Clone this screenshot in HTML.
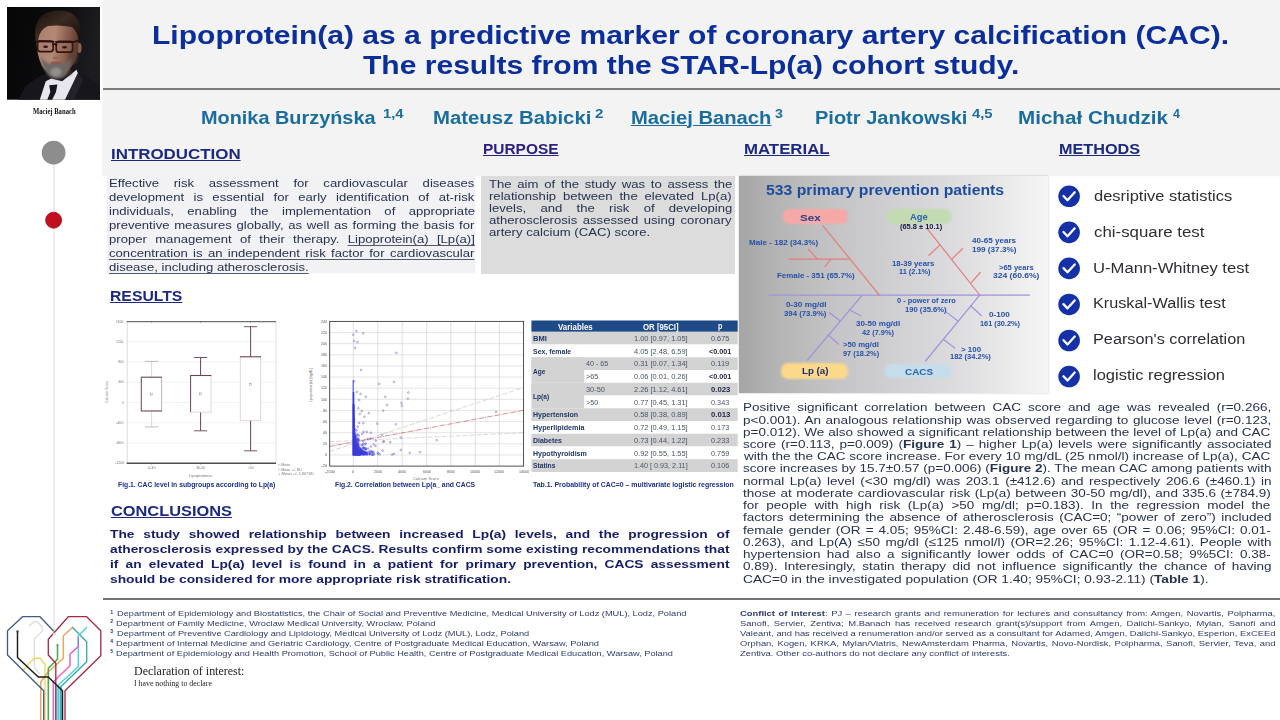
<!DOCTYPE html>
<html lang="en"><head><meta charset="utf-8"><title>Lipoprotein(a) as a predictive marker of coronary artery calcification (CAC)</title>
<style>
html,body{margin:0;padding:0;}
body{width:1280px;height:720px;position:relative;overflow:hidden;background:#ffffff;font-family:"Liberation Sans",sans-serif;}
.t{position:absolute;white-space:nowrap;transform-origin:0 0;margin:0;padding:0;}
.u{text-decoration:underline;text-decoration-thickness:1.1px;text-underline-offset:1px;}
.t u{text-decoration-thickness:0.6px;text-underline-offset:1.5px;text-decoration-color:rgba(39,50,79,.8);}
.bx{position:absolute;}
#gfx{position:absolute;left:0;top:0;width:1280px;height:720px;}
</style></head>
<body>

<div class="bx" style="left:103px;top:0;width:1177px;height:176px;background:#f3f3f3;box-shadow:-1px 0 1.5px rgba(243,243,243,.9)"></div>
<div class="bx" style="left:106.5px;top:176px;width:368.5px;height:97px;background:#f2f2f5;box-shadow:0 0 1.5px #f2f2f5;"></div>
<div class="bx" style="left:481.4px;top:176px;width:253.3px;height:97.8px;background:#dcdcdc;"></div>
<div class="bx" style="left:739.3px;top:175.6px;width:308.5px;height:217.4px;background:linear-gradient(90deg,#a5a5a5 0%,#b5b5b5 13%,#c5c5c7 32%,#d1d1d3 52%,#dddddf 71%,#ebebec 88%,#f3f3f4 97%,#f6f6f6 100%);box-shadow:0 0 2px rgba(120,120,120,.45)"></div>
<div class="bx" style="left:782.5px;top:208.7px;width:65.8px;height:15.6px;border-radius:6px;background:#f5a9a6;filter:blur(1.1px)"></div>
<div class="bx" style="left:885.7px;top:208.8px;width:66.5px;height:15.5px;border-radius:8px;background:#c2dbb3;filter:blur(1.1px)"></div>
<div class="bx" style="left:780.8px;top:363px;width:67.5px;height:16.2px;border-radius:7px;background:#fbd88a;filter:blur(1.1px)"></div>
<div class="bx" style="left:883.8px;top:364.4px;width:68px;height:14px;border-radius:7px;background:#c6dcea;filter:blur(1.1px)"></div>
<div class="bx" style="left:103px;top:88px;width:1177px;height:1.7px;background:#7c7c7c;"></div>
<div class="bx" style="left:103px;top:597.8px;width:1177px;height:1.8px;background:#747474;"></div>

<svg id="gfx" viewBox="0 0 1280 720" width="1280" height="720">
<defs><clipPath id="pc"><rect x="7" y="7" width="93" height="92.7"/></clipPath><linearGradient id="pbg" x1="0" y1="0" x2="1" y2="0.2"><stop offset="0" stop-color="#060607"/><stop offset="0.55" stop-color="#0c0c0e"/><stop offset="1" stop-color="#1d1d21"/></linearGradient><linearGradient id="skin" x1="0" y1="0" x2="1" y2="0.15"><stop offset="0" stop-color="#a87d6b"/><stop offset="0.45" stop-color="#b38875"/><stop offset="0.8" stop-color="#83584a"/><stop offset="1" stop-color="#5c3c32"/></linearGradient><linearGradient id="hair" x1="0" y1="0" x2="1" y2="1"><stop offset="0" stop-color="#19110d"/><stop offset="0.45" stop-color="#3a2b21"/><stop offset="1" stop-color="#140d0a"/></linearGradient><filter id="bl" x="-20%" y="-20%" width="140%" height="140%"><feGaussianBlur stdDeviation="1.3"/></filter><filter id="bl2" x="-20%" y="-20%" width="140%" height="140%"><feGaussianBlur stdDeviation="0.7"/></filter></defs>
<rect x="7" y="7" width="93" height="92.7" fill="url(#pbg)"/>
<g clip-path="url(#pc)">
<path d="M18,100 L24,88 Q33,79 45,74 L78,72 Q92,80 100,86 L100,100 Z" fill="#14151a" filter="url(#bl2)"/>
<path d="M77,72 L66,100 L74,100 L83,80 Z" fill="#23242b" filter="url(#bl2)"/>
<path d="M45.8,81.2 L51.3,78.5 L62.2,81.2 L69,75.8 L76.5,69.7 L77.8,73 L64.9,100 L39.7,100 Z" fill="#e6e6ec" filter="url(#bl2)"/>
<path d="M49.2,85.3 L57.4,84.6 L56,92.1 L52,100 L47.2,100 L50.3,92 Z" fill="#15161e"/>
<ellipse cx="60" cy="72" rx="12" ry="5" fill="#3c2b25" filter="url(#bl)"/>
<ellipse cx="79.3" cy="48" rx="2.3" ry="5" fill="#8a604f" filter="url(#bl2)"/>
<path d="M36.5,40 Q36,27 47,24.5 Q60,22 72,25 Q79,30 78.5,44 Q78,58 72,66 Q66,75 57,76 Q48,75 42,66 Q36.5,55 36.5,40 Z" fill="url(#skin)" filter="url(#bl2)"/>
<ellipse cx="73" cy="56" rx="5" ry="9" fill="#5e3f34" opacity="0.6" filter="url(#bl)"/>
<path d="M35.5,41 Q33,22 44,14 Q56,8 69,12 Q80,17 80.5,30 L79.5,41 Q77,31 72,27 Q60,24.5 48,26 Q40,29 38,40 Z" fill="url(#hair)" filter="url(#bl2)"/>
<path d="M41,56 Q42,68 48,75 Q56,81.5 64,77 Q70,71 71.5,58 Q68,63.5 63,64 Q56,61.5 50,63.5 Q44,62.5 41,56 Z" fill="#6d6865" filter="url(#bl)"/>
<ellipse cx="56" cy="72" rx="5.5" ry="4.5" fill="#918d89" filter="url(#bl)"/>
<ellipse cx="56.5" cy="63" rx="6" ry="1.6" fill="#8c5a52" filter="url(#bl2)"/>
<ellipse cx="56" cy="58" rx="3.2" ry="1.4" fill="#96695a" filter="url(#bl2)"/>
<rect x="37.6" y="41" width="15.6" height="10.6" rx="2.8" fill="#a87c6b" fill-opacity="0.55" stroke="#351411" stroke-width="1.7"/>
<rect x="56.2" y="41.4" width="16.4" height="10.8" rx="2.8" fill="#9a6f60" fill-opacity="0.55" stroke="#351411" stroke-width="1.7"/>
<path d="M37,41.3 L53.5,41.6 M56,41.9 L73,42 L79.5,40.6 M53.2,44.5 Q54.7,43.6 56.2,44.7" stroke="#2b100e" stroke-width="1.9" fill="none" stroke-linecap="round"/>
<ellipse cx="45.6" cy="46.8" rx="2.4" ry="1.2" fill="#2a1815"/><ellipse cx="64.6" cy="47.2" rx="2.4" ry="1.2" fill="#2a1815"/>
</g>
<line x1="54.1" y1="160" x2="54.1" y2="634" stroke="#d6d6d6" stroke-width="0.9"/>
<circle cx="53.6" cy="152.7" r="11.9" fill="#8d8d8d"/>
<circle cx="53.6" cy="220.2" r="8" fill="#c20f1f" stroke="#a30d1b" stroke-width="0.8"/>
<rect x="55.5" y="686" width="6.5" height="34" fill="#9adcec"/>
<path d="M29.2,625.8 L34.2,621.7 L37.5,621.7 L42.5,627.5 L42.5,630.8 L34.2,639.2 L34.2,666.7 L39.2,673.3" fill="none" stroke="#d9d9de" stroke-width="1.2" stroke-linejoin="round" stroke-linecap="round" />
<path d="M22.5,670.8 L34.2,658.3 L40.0,658.3 L45.0,664.2 L45.0,720.0" fill="none" stroke="#ead868" stroke-width="1.44" stroke-linejoin="round" stroke-linecap="round" />
<path d="M72.5,627.5 L63.3,635.8 L63.3,658.3 L48.3,671.7 L40.8,681.7 L40.8,720.0" fill="none" stroke="#e9a55a" stroke-width="1.44" stroke-linejoin="round" stroke-linecap="round" />
<path d="M57.5,645.0 L57.5,659.2 L48.3,668.3 L48.3,720.0" fill="none" stroke="#4aa848" stroke-width="1.56" stroke-linejoin="round" stroke-linecap="round" />
<path d="M72.5,627.5 L86.7,641.7 L86.7,661.7 L60.8,686.7 L60.8,720.0" fill="none" stroke="#3aa7a7" stroke-width="1.32" stroke-linejoin="round" stroke-linecap="round" />
<path d="M86.7,627.5 L78.3,635.8 L78.3,666.7 L58.3,685.0 L58.3,720.0" fill="none" stroke="#4fd0de" stroke-width="1.44" stroke-linejoin="round" stroke-linecap="round" />
<path d="M78.3,637.5 L78.3,646.7" fill="none" stroke="#8a86e0" stroke-width="1.44" stroke-linejoin="round" stroke-linecap="round" />
<path d="M78.3,646.7 L70.0,654.2 L70.0,665.8 L53.3,681.7 L53.3,720.0" fill="none" stroke="#e36ad2" stroke-width="1.56" stroke-linejoin="round" stroke-linecap="round" />
<path d="M43.7,720.0 L43.7,690.8 L7.5,655.0 L7.5,630.8 L22.5,616.7 L40.0,616.7 L53.3,630.8" fill="none" stroke="#3b5d8c" stroke-width="1.32" stroke-linejoin="round" stroke-linecap="round" />
<path d="M65.0,720.0 L65.0,690.8 L100.8,655.8 L100.8,630.8 L86.7,616.7 L68.3,616.7 L48.3,639.2 L48.3,655.0 L55.8,663.3 L55.8,720.0" fill="none" stroke="#a32a45" stroke-width="1.32" stroke-linejoin="round" stroke-linecap="round" />
<path d="M17.5,631.7 L17.5,657.5 L38.3,677.0 L48.3,677.0 L62.5,690.8 L62.5,720.0" fill="none" stroke="#1a1a1a" stroke-width="1.44" stroke-linejoin="round" stroke-linecap="round" />
<circle cx="17.5" cy="631.5" r="1.3" fill="#555"/>
<circle cx="57.5" cy="645" r="1.1" fill="#4aa848"/>
<circle cx="54.2" cy="634" r="1.6" fill="#d5d5d8"/>
<rect x="127.2" y="321.7" width="148.8" height="141.60000000000002" fill="#fff"/>
<line x1="127.2" y1="341.6" x2="276" y2="341.6" stroke="#e4e4e4" stroke-width="0.5"/>
<line x1="127.2" y1="361.9" x2="276" y2="361.9" stroke="#e4e4e4" stroke-width="0.5"/>
<line x1="127.2" y1="382.2" x2="276" y2="382.2" stroke="#e4e4e4" stroke-width="0.5"/>
<line x1="127.2" y1="402.5" x2="276" y2="402.5" stroke="#e4e4e4" stroke-width="0.5"/>
<line x1="127.2" y1="422.8" x2="276" y2="422.8" stroke="#e4e4e4" stroke-width="0.5"/>
<line x1="127.2" y1="442.8" x2="276" y2="442.8" stroke="#e4e4e4" stroke-width="0.5"/>
<line x1="127.2" y1="321.7" x2="127.2" y2="463.3" stroke="#c4c4c4" stroke-width="0.6"/>
<line x1="276" y1="321.7" x2="276" y2="463.3" stroke="#cfcfcf" stroke-width="0.6"/>
<line x1="126.7" y1="321.7" x2="276" y2="321.7" stroke="#4c4c4c" stroke-width="1.0"/>
<line x1="126.7" y1="463.3" x2="276" y2="463.3" stroke="#4c4c4c" stroke-width="1.5"/>
<rect x="141.3" y="377.2" width="20.299999999999983" height="33.80000000000001" fill="#fff"/>
<line x1="151.6" y1="361.4" x2="151.6" y2="377.2" stroke="#c8c0c2" stroke-width="0.6"/>
<line x1="151.6" y1="411.0" x2="151.6" y2="426.9" stroke="#c8c0c2" stroke-width="0.6"/>
<line x1="145.1" y1="361.4" x2="158.1" y2="361.4" stroke="#b9b0b3" stroke-width="0.9"/>
<line x1="145.1" y1="426.9" x2="158.1" y2="426.9" stroke="#b9b0b3" stroke-width="0.9"/>
<line x1="141.3" y1="377.2" x2="141.3" y2="411.0" stroke="#6a4450" stroke-width="1.0"/>
<line x1="161.6" y1="377.2" x2="161.6" y2="411.0" stroke="#9a8088" stroke-width="0.6"/>
<line x1="140.9" y1="377.2" x2="162.0" y2="377.2" stroke="#6a4450" stroke-width="1.1"/>
<line x1="140.9" y1="411.0" x2="162.0" y2="411.0" stroke="#6a4450" stroke-width="1.1"/>
<rect x="150.6" y="393.1" width="2" height="2" fill="none" stroke="#777" stroke-width="0.4"/>
<rect x="190.6" y="375.5" width="20.400000000000006" height="36.69999999999999" fill="#fff"/>
<line x1="200.6" y1="357.5" x2="200.6" y2="375.5" stroke="#6a4450" stroke-width="1.0"/>
<line x1="200.6" y1="412.2" x2="200.6" y2="430.8" stroke="#6a4450" stroke-width="1.0"/>
<line x1="194.1" y1="357.5" x2="207.1" y2="357.5" stroke="#6a4450" stroke-width="0.9"/>
<line x1="194.1" y1="430.8" x2="207.1" y2="430.8" stroke="#6a4450" stroke-width="0.9"/>
<line x1="190.6" y1="375.5" x2="190.6" y2="412.2" stroke="#6a4450" stroke-width="1.0"/>
<line x1="211.0" y1="375.5" x2="211.0" y2="412.2" stroke="#c9bcc0" stroke-width="0.6"/>
<line x1="190.2" y1="375.5" x2="211.4" y2="375.5" stroke="#6a4450" stroke-width="1.1"/>
<line x1="190.2" y1="412.2" x2="211.4" y2="412.2" stroke="#c9bcc0" stroke-width="0.6"/>
<rect x="199.6" y="392.85" width="2" height="2" fill="none" stroke="#777" stroke-width="0.4"/>
<rect x="240.3" y="356.8" width="20.30000000000001" height="63.80000000000001" fill="#fff"/>
<line x1="250.6" y1="326.7" x2="250.6" y2="356.8" stroke="#6a4450" stroke-width="1.0"/>
<line x1="250.6" y1="420.6" x2="250.6" y2="450.8" stroke="#6a4450" stroke-width="1.0"/>
<line x1="244.1" y1="326.7" x2="257.1" y2="326.7" stroke="#6a4450" stroke-width="0.9"/>
<line x1="244.1" y1="450.8" x2="257.1" y2="450.8" stroke="#6a4450" stroke-width="0.9"/>
<line x1="240.3" y1="356.8" x2="240.3" y2="420.6" stroke="#c9bcc0" stroke-width="0.6"/>
<line x1="260.6" y1="356.8" x2="260.6" y2="420.6" stroke="#c9bcc0" stroke-width="0.6"/>
<line x1="239.9" y1="356.8" x2="261.0" y2="356.8" stroke="#6a4450" stroke-width="1.1"/>
<line x1="239.9" y1="420.6" x2="261.0" y2="420.6" stroke="#c9bcc0" stroke-width="0.6"/>
<rect x="249.6" y="383.70000000000005" width="2" height="2" fill="none" stroke="#777" stroke-width="0.4"/>
<line x1="151.6" y1="463.3" x2="151.6" y2="464.8" stroke="#777" stroke-width="0.5"/>
<line x1="151.6" y1="321.7" x2="151.6" y2="323.2" stroke="#777" stroke-width="0.5"/>
<line x1="200.6" y1="463.3" x2="200.6" y2="464.8" stroke="#777" stroke-width="0.5"/>
<line x1="200.6" y1="321.7" x2="200.6" y2="323.2" stroke="#777" stroke-width="0.5"/>
<line x1="250.6" y1="463.3" x2="250.6" y2="464.8" stroke="#777" stroke-width="0.5"/>
<line x1="250.6" y1="321.7" x2="250.6" y2="323.2" stroke="#777" stroke-width="0.5"/>
<text transform="rotate(-90 107.5 392)" x="107.5" y="392" font-size="3.4" font-family="Liberation Sans, sans-serif" fill="#777" text-anchor="middle">Calcium Score</text>
<text transform="rotate(-90 312 385)" x="312" y="385" font-size="3.4" font-family="Liberation Sans, sans-serif" fill="#555" text-anchor="middle">Lipoprotein (a) [mg/dL]</text>
<rect x="329.7" y="321.4" width="193.90000000000003" height="144.70000000000005" fill="#fff"/>
<line x1="353.3" y1="321.4" x2="353.3" y2="466.1" stroke="#c6c6c6" stroke-width="0.55"/>
<line x1="377.8" y1="321.4" x2="377.8" y2="466.1" stroke="#c6c6c6" stroke-width="0.55"/>
<line x1="402.2" y1="321.4" x2="402.2" y2="466.1" stroke="#c6c6c6" stroke-width="0.55"/>
<line x1="426.7" y1="321.4" x2="426.7" y2="466.1" stroke="#c6c6c6" stroke-width="0.55"/>
<line x1="450.8" y1="321.4" x2="450.8" y2="466.1" stroke="#c6c6c6" stroke-width="0.55"/>
<line x1="475.3" y1="321.4" x2="475.3" y2="466.1" stroke="#c6c6c6" stroke-width="0.55"/>
<line x1="499.4" y1="321.4" x2="499.4" y2="466.1" stroke="#c6c6c6" stroke-width="0.55"/>
<line x1="329.7" y1="332.53" x2="523.6" y2="332.53" stroke="#cdcdcd" stroke-width="0.55"/>
<line x1="329.7" y1="343.65999999999997" x2="523.6" y2="343.65999999999997" stroke="#cdcdcd" stroke-width="0.55"/>
<line x1="329.7" y1="354.78999999999996" x2="523.6" y2="354.78999999999996" stroke="#cdcdcd" stroke-width="0.55"/>
<line x1="329.7" y1="365.91999999999996" x2="523.6" y2="365.91999999999996" stroke="#cdcdcd" stroke-width="0.55"/>
<line x1="329.7" y1="377.04999999999995" x2="523.6" y2="377.04999999999995" stroke="#cdcdcd" stroke-width="0.55"/>
<line x1="329.7" y1="388.17999999999995" x2="523.6" y2="388.17999999999995" stroke="#cdcdcd" stroke-width="0.55"/>
<line x1="329.7" y1="399.31" x2="523.6" y2="399.31" stroke="#cdcdcd" stroke-width="0.55"/>
<line x1="329.7" y1="410.44" x2="523.6" y2="410.44" stroke="#cdcdcd" stroke-width="0.55"/>
<line x1="329.7" y1="421.57" x2="523.6" y2="421.57" stroke="#cdcdcd" stroke-width="0.55"/>
<line x1="329.7" y1="432.7" x2="523.6" y2="432.7" stroke="#cdcdcd" stroke-width="0.55"/>
<line x1="329.7" y1="443.83" x2="523.6" y2="443.83" stroke="#cdcdcd" stroke-width="0.55"/>
<line x1="329.7" y1="454.96" x2="523.6" y2="454.96" stroke="#cdcdcd" stroke-width="0.55"/>
<line x1="329.7" y1="451.4" x2="523.6" y2="387.5" stroke="#c9b8b8" stroke-width="0.6" stroke-dasharray="5 2"/>
<line x1="329.7" y1="441.7" x2="523.6" y2="432.8" stroke="#c9c0c0" stroke-width="0.6" stroke-dasharray="5 2"/>
<line x1="329.7" y1="446.4" x2="523.6" y2="410.3" stroke="#b84444" stroke-width="0.6" stroke-dasharray="5 1 1 1"/>
<rect x="352.5" y="392" width="1.8" height="63.5" fill="#2828dd" opacity="0.92"/>
<rect x="352.6" y="380" width="1.2" height="12" fill="#3a3ae0" opacity="0.8"/>
<polygon points="352.6,455.6 352.6,404 354.6,404 355.2,430 357,443 362,449.5 368,452.5 368,455.6" fill="#2a2ae0" opacity="0.8"/>
<circle cx="356.0" cy="453.5" r="0.8" fill="none" stroke="#3a3ad8" stroke-width="0.45"/>
<circle cx="359.3" cy="454.5" r="0.8" fill="none" stroke="#3a3ad8" stroke-width="0.45"/>
<circle cx="357.8" cy="451.7" r="0.8" fill="none" stroke="#3a3ad8" stroke-width="0.45"/>
<circle cx="354.3" cy="446.9" r="0.8" fill="none" stroke="#3a3ad8" stroke-width="0.45"/>
<circle cx="354.2" cy="448.4" r="0.8" fill="none" stroke="#3a3ad8" stroke-width="0.45"/>
<circle cx="354.4" cy="453.9" r="0.8" fill="none" stroke="#3a3ad8" stroke-width="0.45"/>
<circle cx="356.8" cy="440.6" r="0.8" fill="none" stroke="#3a3ad8" stroke-width="0.45"/>
<circle cx="354.7" cy="452.3" r="0.8" fill="none" stroke="#3a3ad8" stroke-width="0.45"/>
<circle cx="358.9" cy="435.6" r="0.8" fill="none" stroke="#3a3ad8" stroke-width="0.45"/>
<circle cx="358.3" cy="451.5" r="0.8" fill="none" stroke="#3a3ad8" stroke-width="0.45"/>
<circle cx="372.7" cy="454.9" r="0.8" fill="none" stroke="#3a3ad8" stroke-width="0.45"/>
<circle cx="363.8" cy="453.4" r="0.8" fill="none" stroke="#3a3ad8" stroke-width="0.45"/>
<circle cx="354.8" cy="453.7" r="0.8" fill="none" stroke="#3a3ad8" stroke-width="0.45"/>
<circle cx="355.8" cy="439.5" r="0.8" fill="none" stroke="#3a3ad8" stroke-width="0.45"/>
<circle cx="355.0" cy="446.0" r="0.8" fill="none" stroke="#3a3ad8" stroke-width="0.45"/>
<circle cx="359.1" cy="452.0" r="0.8" fill="none" stroke="#3a3ad8" stroke-width="0.45"/>
<circle cx="358.0" cy="454.5" r="0.8" fill="none" stroke="#3a3ad8" stroke-width="0.45"/>
<circle cx="354.3" cy="452.4" r="0.8" fill="none" stroke="#3a3ad8" stroke-width="0.45"/>
<circle cx="359.7" cy="451.6" r="0.8" fill="none" stroke="#3a3ad8" stroke-width="0.45"/>
<circle cx="355.9" cy="447.0" r="0.8" fill="none" stroke="#3a3ad8" stroke-width="0.45"/>
<circle cx="357.0" cy="452.2" r="0.8" fill="none" stroke="#3a3ad8" stroke-width="0.45"/>
<circle cx="361.9" cy="448.8" r="0.8" fill="none" stroke="#3a3ad8" stroke-width="0.45"/>
<circle cx="355.4" cy="446.7" r="0.8" fill="none" stroke="#3a3ad8" stroke-width="0.45"/>
<circle cx="357.7" cy="439.6" r="0.8" fill="none" stroke="#3a3ad8" stroke-width="0.45"/>
<circle cx="360.5" cy="453.0" r="0.8" fill="none" stroke="#3a3ad8" stroke-width="0.45"/>
<circle cx="373.6" cy="454.6" r="0.8" fill="none" stroke="#3a3ad8" stroke-width="0.45"/>
<circle cx="356.7" cy="443.3" r="0.8" fill="none" stroke="#3a3ad8" stroke-width="0.45"/>
<circle cx="354.8" cy="447.9" r="0.8" fill="none" stroke="#3a3ad8" stroke-width="0.45"/>
<circle cx="354.2" cy="442.2" r="0.8" fill="none" stroke="#3a3ad8" stroke-width="0.45"/>
<circle cx="361.2" cy="450.4" r="0.8" fill="none" stroke="#3a3ad8" stroke-width="0.45"/>
<circle cx="364.4" cy="453.3" r="0.8" fill="none" stroke="#3a3ad8" stroke-width="0.45"/>
<circle cx="359.9" cy="449.6" r="0.8" fill="none" stroke="#3a3ad8" stroke-width="0.45"/>
<circle cx="358.3" cy="450.8" r="0.8" fill="none" stroke="#3a3ad8" stroke-width="0.45"/>
<circle cx="363.2" cy="441.3" r="0.8" fill="none" stroke="#3a3ad8" stroke-width="0.45"/>
<circle cx="357.2" cy="446.5" r="0.8" fill="none" stroke="#3a3ad8" stroke-width="0.45"/>
<circle cx="354.3" cy="441.2" r="0.8" fill="none" stroke="#3a3ad8" stroke-width="0.45"/>
<circle cx="359.2" cy="423.0" r="0.8" fill="none" stroke="#3a3ad8" stroke-width="0.45"/>
<circle cx="362.6" cy="453.4" r="0.8" fill="none" stroke="#3a3ad8" stroke-width="0.45"/>
<circle cx="356.4" cy="445.6" r="0.8" fill="none" stroke="#3a3ad8" stroke-width="0.45"/>
<circle cx="354.1" cy="447.7" r="0.8" fill="none" stroke="#3a3ad8" stroke-width="0.45"/>
<circle cx="354.9" cy="453.7" r="0.8" fill="none" stroke="#3a3ad8" stroke-width="0.45"/>
<circle cx="354.3" cy="438.3" r="0.8" fill="none" stroke="#3a3ad8" stroke-width="0.45"/>
<circle cx="354.7" cy="451.9" r="0.8" fill="none" stroke="#3a3ad8" stroke-width="0.45"/>
<circle cx="356.5" cy="437.6" r="0.8" fill="none" stroke="#3a3ad8" stroke-width="0.45"/>
<circle cx="354.4" cy="448.3" r="0.8" fill="none" stroke="#3a3ad8" stroke-width="0.45"/>
<circle cx="358.0" cy="439.5" r="0.8" fill="none" stroke="#3a3ad8" stroke-width="0.45"/>
<circle cx="362.6" cy="445.1" r="0.8" fill="none" stroke="#3a3ad8" stroke-width="0.45"/>
<circle cx="355.6" cy="449.9" r="0.8" fill="none" stroke="#3a3ad8" stroke-width="0.45"/>
<circle cx="356.2" cy="436.1" r="0.8" fill="none" stroke="#3a3ad8" stroke-width="0.45"/>
<circle cx="369.8" cy="454.5" r="0.8" fill="none" stroke="#3a3ad8" stroke-width="0.45"/>
<circle cx="355.0" cy="452.3" r="0.8" fill="none" stroke="#3a3ad8" stroke-width="0.45"/>
<circle cx="355.3" cy="448.5" r="0.8" fill="none" stroke="#3a3ad8" stroke-width="0.45"/>
<circle cx="358.4" cy="452.9" r="0.8" fill="none" stroke="#3a3ad8" stroke-width="0.45"/>
<circle cx="354.0" cy="448.5" r="0.8" fill="none" stroke="#3a3ad8" stroke-width="0.45"/>
<circle cx="356.3" cy="447.8" r="0.8" fill="none" stroke="#3a3ad8" stroke-width="0.45"/>
<circle cx="369.3" cy="451.0" r="0.8" fill="none" stroke="#3a3ad8" stroke-width="0.45"/>
<circle cx="357.6" cy="447.8" r="0.8" fill="none" stroke="#3a3ad8" stroke-width="0.45"/>
<circle cx="359.6" cy="454.7" r="0.8" fill="none" stroke="#3a3ad8" stroke-width="0.45"/>
<circle cx="365.5" cy="448.8" r="0.8" fill="none" stroke="#3a3ad8" stroke-width="0.45"/>
<circle cx="364.4" cy="448.0" r="0.8" fill="none" stroke="#3a3ad8" stroke-width="0.45"/>
<circle cx="356.5" cy="450.7" r="0.8" fill="none" stroke="#3a3ad8" stroke-width="0.45"/>
<circle cx="354.5" cy="443.9" r="0.8" fill="none" stroke="#3a3ad8" stroke-width="0.45"/>
<circle cx="354.3" cy="454.2" r="0.8" fill="none" stroke="#3a3ad8" stroke-width="0.45"/>
<circle cx="355.2" cy="453.2" r="0.8" fill="none" stroke="#3a3ad8" stroke-width="0.45"/>
<circle cx="356.1" cy="454.5" r="0.8" fill="none" stroke="#3a3ad8" stroke-width="0.45"/>
<circle cx="354.0" cy="453.0" r="0.8" fill="none" stroke="#3a3ad8" stroke-width="0.45"/>
<circle cx="354.5" cy="450.0" r="0.8" fill="none" stroke="#3a3ad8" stroke-width="0.45"/>
<circle cx="354.1" cy="430.6" r="0.8" fill="none" stroke="#3a3ad8" stroke-width="0.45"/>
<circle cx="358.8" cy="453.9" r="0.8" fill="none" stroke="#3a3ad8" stroke-width="0.45"/>
<circle cx="355.5" cy="450.9" r="0.8" fill="none" stroke="#3a3ad8" stroke-width="0.45"/>
<circle cx="356.3" cy="453.9" r="0.8" fill="none" stroke="#3a3ad8" stroke-width="0.45"/>
<circle cx="363.5" cy="431.8" r="0.8" fill="none" stroke="#3a3ad8" stroke-width="0.45"/>
<circle cx="357.1" cy="449.8" r="0.8" fill="none" stroke="#3a3ad8" stroke-width="0.45"/>
<circle cx="354.4" cy="453.8" r="0.8" fill="none" stroke="#3a3ad8" stroke-width="0.45"/>
<circle cx="356.1" cy="452.3" r="0.8" fill="none" stroke="#3a3ad8" stroke-width="0.45"/>
<circle cx="362.8" cy="454.1" r="0.8" fill="none" stroke="#3a3ad8" stroke-width="0.45"/>
<circle cx="354.1" cy="419.5" r="0.8" fill="none" stroke="#3a3ad8" stroke-width="0.45"/>
<circle cx="357.8" cy="453.8" r="0.8" fill="none" stroke="#3a3ad8" stroke-width="0.45"/>
<circle cx="357.9" cy="454.8" r="0.8" fill="none" stroke="#3a3ad8" stroke-width="0.45"/>
<circle cx="357.8" cy="426.7" r="0.8" fill="none" stroke="#3a3ad8" stroke-width="0.45"/>
<circle cx="364.0" cy="449.6" r="0.8" fill="none" stroke="#3a3ad8" stroke-width="0.45"/>
<circle cx="355.5" cy="450.6" r="0.8" fill="none" stroke="#3a3ad8" stroke-width="0.45"/>
<circle cx="354.9" cy="439.6" r="0.8" fill="none" stroke="#3a3ad8" stroke-width="0.45"/>
<circle cx="357.8" cy="443.9" r="0.8" fill="none" stroke="#3a3ad8" stroke-width="0.45"/>
<circle cx="356.0" cy="452.7" r="0.8" fill="none" stroke="#3a3ad8" stroke-width="0.45"/>
<circle cx="362.3" cy="433.9" r="0.8" fill="none" stroke="#3a3ad8" stroke-width="0.45"/>
<circle cx="363.6" cy="447.4" r="0.8" fill="none" stroke="#3a3ad8" stroke-width="0.45"/>
<circle cx="362.5" cy="448.3" r="0.8" fill="none" stroke="#3a3ad8" stroke-width="0.45"/>
<circle cx="355.3" cy="447.8" r="0.8" fill="none" stroke="#3a3ad8" stroke-width="0.45"/>
<circle cx="356.2" cy="454.7" r="0.8" fill="none" stroke="#3a3ad8" stroke-width="0.45"/>
<circle cx="354.1" cy="451.2" r="0.8" fill="none" stroke="#3a3ad8" stroke-width="0.45"/>
<circle cx="355.5" cy="443.7" r="0.8" fill="none" stroke="#3a3ad8" stroke-width="0.45"/>
<circle cx="369.7" cy="453.0" r="0.8" fill="none" stroke="#3a3ad8" stroke-width="0.45"/>
<circle cx="367.8" cy="438.9" r="0.8" fill="none" stroke="#3a3ad8" stroke-width="0.45"/>
<circle cx="369.5" cy="453.5" r="0.8" fill="none" stroke="#3a3ad8" stroke-width="0.45"/>
<circle cx="355.2" cy="452.4" r="0.8" fill="none" stroke="#3a3ad8" stroke-width="0.45"/>
<circle cx="355.1" cy="452.7" r="0.8" fill="none" stroke="#3a3ad8" stroke-width="0.45"/>
<circle cx="358.9" cy="439.8" r="0.8" fill="none" stroke="#3a3ad8" stroke-width="0.45"/>
<circle cx="363.2" cy="451.9" r="0.8" fill="none" stroke="#3a3ad8" stroke-width="0.45"/>
<circle cx="359.3" cy="444.7" r="0.8" fill="none" stroke="#3a3ad8" stroke-width="0.45"/>
<circle cx="354.4" cy="442.9" r="0.8" fill="none" stroke="#3a3ad8" stroke-width="0.45"/>
<circle cx="366.0" cy="448.9" r="0.8" fill="none" stroke="#3a3ad8" stroke-width="0.45"/>
<circle cx="360.9" cy="451.4" r="0.8" fill="none" stroke="#3a3ad8" stroke-width="0.45"/>
<circle cx="355.0" cy="439.0" r="0.8" fill="none" stroke="#3a3ad8" stroke-width="0.45"/>
<circle cx="356.0" cy="440.5" r="0.8" fill="none" stroke="#3a3ad8" stroke-width="0.45"/>
<circle cx="371.8" cy="453.5" r="0.8" fill="none" stroke="#3a3ad8" stroke-width="0.45"/>
<circle cx="356.6" cy="430.3" r="0.8" fill="none" stroke="#3a3ad8" stroke-width="0.45"/>
<circle cx="360.5" cy="453.9" r="0.8" fill="none" stroke="#3a3ad8" stroke-width="0.45"/>
<circle cx="354.7" cy="453.2" r="0.8" fill="none" stroke="#3a3ad8" stroke-width="0.45"/>
<circle cx="365.8" cy="448.3" r="0.8" fill="none" stroke="#3a3ad8" stroke-width="0.45"/>
<circle cx="354.8" cy="436.4" r="0.8" fill="none" stroke="#3a3ad8" stroke-width="0.45"/>
<circle cx="373.6" cy="452.0" r="0.8" fill="none" stroke="#3a3ad8" stroke-width="0.45"/>
<circle cx="356.2" cy="448.0" r="0.8" fill="none" stroke="#3a3ad8" stroke-width="0.45"/>
<circle cx="354.7" cy="454.8" r="0.8" fill="none" stroke="#3a3ad8" stroke-width="0.45"/>
<circle cx="371.7" cy="451.8" r="0.8" fill="none" stroke="#3a3ad8" stroke-width="0.45"/>
<circle cx="357.7" cy="434.9" r="0.8" fill="none" stroke="#3a3ad8" stroke-width="0.45"/>
<circle cx="356.8" cy="438.3" r="0.8" fill="none" stroke="#3a3ad8" stroke-width="0.45"/>
<circle cx="362.7" cy="453.8" r="0.8" fill="none" stroke="#3a3ad8" stroke-width="0.45"/>
<circle cx="355.5" cy="451.6" r="0.8" fill="none" stroke="#3a3ad8" stroke-width="0.45"/>
<circle cx="355.4" cy="446.4" r="0.8" fill="none" stroke="#3a3ad8" stroke-width="0.45"/>
<circle cx="355.5" cy="449.8" r="0.8" fill="none" stroke="#3a3ad8" stroke-width="0.45"/>
<circle cx="354.7" cy="429.1" r="0.8" fill="none" stroke="#3a3ad8" stroke-width="0.45"/>
<circle cx="356.2" cy="449.6" r="0.8" fill="none" stroke="#3a3ad8" stroke-width="0.45"/>
<circle cx="358.4" cy="438.7" r="0.8" fill="none" stroke="#3a3ad8" stroke-width="0.45"/>
<circle cx="356.7" cy="434.4" r="0.8" fill="none" stroke="#3a3ad8" stroke-width="0.45"/>
<circle cx="357.5" cy="449.2" r="0.8" fill="none" stroke="#3a3ad8" stroke-width="0.45"/>
<circle cx="357.7" cy="454.9" r="0.8" fill="none" stroke="#3a3ad8" stroke-width="0.45"/>
<circle cx="356.9" cy="453.4" r="0.8" fill="none" stroke="#3a3ad8" stroke-width="0.45"/>
<circle cx="354.0" cy="435.8" r="0.8" fill="none" stroke="#3a3ad8" stroke-width="0.45"/>
<circle cx="354.9" cy="448.4" r="0.8" fill="none" stroke="#3a3ad8" stroke-width="0.45"/>
<circle cx="360.5" cy="450.3" r="0.8" fill="none" stroke="#3a3ad8" stroke-width="0.45"/>
<circle cx="356.0" cy="448.4" r="0.8" fill="none" stroke="#3a3ad8" stroke-width="0.45"/>
<circle cx="358.1" cy="444.0" r="0.8" fill="none" stroke="#3a3ad8" stroke-width="0.45"/>
<circle cx="354.6" cy="446.0" r="0.8" fill="none" stroke="#3a3ad8" stroke-width="0.45"/>
<circle cx="355.4" cy="451.9" r="0.8" fill="none" stroke="#3a3ad8" stroke-width="0.45"/>
<circle cx="361.4" cy="451.2" r="0.8" fill="none" stroke="#3a3ad8" stroke-width="0.45"/>
<circle cx="358.1" cy="444.9" r="0.8" fill="none" stroke="#3a3ad8" stroke-width="0.45"/>
<circle cx="366.2" cy="452.7" r="0.8" fill="none" stroke="#3a3ad8" stroke-width="0.45"/>
<circle cx="358.7" cy="450.3" r="0.8" fill="none" stroke="#3a3ad8" stroke-width="0.45"/>
<circle cx="357.6" cy="446.1" r="0.8" fill="none" stroke="#3a3ad8" stroke-width="0.45"/>
<circle cx="362.4" cy="452.0" r="0.8" fill="none" stroke="#3a3ad8" stroke-width="0.45"/>
<circle cx="363.1" cy="443.6" r="0.8" fill="none" stroke="#3a3ad8" stroke-width="0.45"/>
<circle cx="370.8" cy="446.6" r="0.8" fill="none" stroke="#3a3ad8" stroke-width="0.45"/>
<circle cx="393.9" cy="453.8" r="0.8" fill="none" stroke="#3a3ad8" stroke-width="0.45"/>
<circle cx="365.5" cy="443.5" r="0.8" fill="none" stroke="#3a3ad8" stroke-width="0.45"/>
<circle cx="379.7" cy="454.4" r="0.8" fill="none" stroke="#3a3ad8" stroke-width="0.45"/>
<circle cx="355.8" cy="452.7" r="0.8" fill="none" stroke="#3a3ad8" stroke-width="0.45"/>
<circle cx="355.1" cy="453.9" r="0.8" fill="none" stroke="#3a3ad8" stroke-width="0.45"/>
<circle cx="355.1" cy="450.6" r="0.8" fill="none" stroke="#3a3ad8" stroke-width="0.45"/>
<circle cx="375.5" cy="445.9" r="0.8" fill="none" stroke="#3a3ad8" stroke-width="0.45"/>
<circle cx="356.3" cy="450.0" r="0.8" fill="none" stroke="#3a3ad8" stroke-width="0.45"/>
<circle cx="369.1" cy="454.4" r="0.8" fill="none" stroke="#3a3ad8" stroke-width="0.45"/>
<circle cx="384.0" cy="441.3" r="0.8" fill="none" stroke="#3a3ad8" stroke-width="0.45"/>
<circle cx="357.5" cy="442.8" r="0.8" fill="none" stroke="#3a3ad8" stroke-width="0.45"/>
<circle cx="361.1" cy="452.3" r="0.8" fill="none" stroke="#3a3ad8" stroke-width="0.45"/>
<circle cx="356.5" cy="452.7" r="0.8" fill="none" stroke="#3a3ad8" stroke-width="0.45"/>
<circle cx="364.1" cy="453.3" r="0.8" fill="none" stroke="#3a3ad8" stroke-width="0.45"/>
<circle cx="357.0" cy="453.5" r="0.8" fill="none" stroke="#3a3ad8" stroke-width="0.45"/>
<circle cx="371.9" cy="454.9" r="0.8" fill="none" stroke="#3a3ad8" stroke-width="0.45"/>
<circle cx="365.3" cy="452.7" r="0.8" fill="none" stroke="#3a3ad8" stroke-width="0.45"/>
<circle cx="354.3" cy="453.4" r="0.8" fill="none" stroke="#3a3ad8" stroke-width="0.45"/>
<circle cx="367.7" cy="452.1" r="0.8" fill="none" stroke="#3a3ad8" stroke-width="0.45"/>
<circle cx="354.9" cy="438.2" r="0.8" fill="none" stroke="#3a3ad8" stroke-width="0.45"/>
<circle cx="375.7" cy="440.7" r="0.8" fill="none" stroke="#3a3ad8" stroke-width="0.45"/>
<circle cx="355.5" cy="453.8" r="0.8" fill="none" stroke="#3a3ad8" stroke-width="0.45"/>
<circle cx="354.6" cy="449.0" r="0.8" fill="none" stroke="#3a3ad8" stroke-width="0.45"/>
<circle cx="358.4" cy="454.4" r="0.8" fill="none" stroke="#3a3ad8" stroke-width="0.45"/>
<circle cx="361.7" cy="445.3" r="0.8" fill="none" stroke="#3a3ad8" stroke-width="0.45"/>
<circle cx="377.9" cy="453.8" r="0.8" fill="none" stroke="#3a3ad8" stroke-width="0.45"/>
<circle cx="356.3" cy="444.9" r="0.8" fill="none" stroke="#3a3ad8" stroke-width="0.45"/>
<circle cx="365.8" cy="450.2" r="0.8" fill="none" stroke="#3a3ad8" stroke-width="0.45"/>
<circle cx="355.3" cy="454.8" r="0.8" fill="none" stroke="#3a3ad8" stroke-width="0.45"/>
<circle cx="370.3" cy="452.8" r="0.8" fill="none" stroke="#3a3ad8" stroke-width="0.45"/>
<circle cx="355.1" cy="443.9" r="0.8" fill="none" stroke="#3a3ad8" stroke-width="0.45"/>
<circle cx="368.1" cy="448.5" r="0.8" fill="none" stroke="#3a3ad8" stroke-width="0.45"/>
<circle cx="355.2" cy="447.2" r="0.8" fill="none" stroke="#3a3ad8" stroke-width="0.45"/>
<circle cx="355.0" cy="447.1" r="0.8" fill="none" stroke="#3a3ad8" stroke-width="0.45"/>
<circle cx="362.5" cy="453.3" r="0.8" fill="none" stroke="#3a3ad8" stroke-width="0.45"/>
<circle cx="365.3" cy="444.5" r="0.8" fill="none" stroke="#3a3ad8" stroke-width="0.45"/>
<circle cx="358.4" cy="454.4" r="0.8" fill="none" stroke="#3a3ad8" stroke-width="0.45"/>
<circle cx="364.5" cy="453.9" r="0.8" fill="none" stroke="#3a3ad8" stroke-width="0.45"/>
<circle cx="355.6" cy="454.3" r="0.8" fill="none" stroke="#3a3ad8" stroke-width="0.45"/>
<circle cx="354.7" cy="454.1" r="0.8" fill="none" stroke="#3a3ad8" stroke-width="0.45"/>
<circle cx="359.2" cy="453.5" r="0.8" fill="none" stroke="#3a3ad8" stroke-width="0.45"/>
<circle cx="374.0" cy="453.6" r="0.8" fill="none" stroke="#3a3ad8" stroke-width="0.45"/>
<circle cx="363.7" cy="454.2" r="0.8" fill="none" stroke="#3a3ad8" stroke-width="0.45"/>
<circle cx="360.0" cy="454.9" r="0.8" fill="none" stroke="#3a3ad8" stroke-width="0.45"/>
<circle cx="358.0" cy="454.9" r="0.8" fill="none" stroke="#3a3ad8" stroke-width="0.45"/>
<circle cx="372.5" cy="451.8" r="0.8" fill="none" stroke="#3a3ad8" stroke-width="0.45"/>
<circle cx="356.9" cy="452.4" r="0.8" fill="none" stroke="#3a3ad8" stroke-width="0.45"/>
<circle cx="392.2" cy="454.6" r="0.8" fill="none" stroke="#3a3ad8" stroke-width="0.45"/>
<circle cx="377.9" cy="452.7" r="0.8" fill="none" stroke="#3a3ad8" stroke-width="0.45"/>
<circle cx="363.6" cy="447.8" r="0.8" fill="none" stroke="#3a3ad8" stroke-width="0.45"/>
<circle cx="361.0" cy="452.2" r="0.8" fill="none" stroke="#3a3ad8" stroke-width="0.45"/>
<circle cx="370.3" cy="438.8" r="0.8" fill="none" stroke="#3a3ad8" stroke-width="0.45"/>
<circle cx="359.9" cy="447.9" r="0.8" fill="none" stroke="#3a3ad8" stroke-width="0.45"/>
<circle cx="371.2" cy="451.0" r="0.8" fill="none" stroke="#3a3ad8" stroke-width="0.45"/>
<circle cx="361.3" cy="453.3" r="0.8" fill="none" stroke="#3a3ad8" stroke-width="0.45"/>
<circle cx="354.8" cy="454.4" r="0.8" fill="none" stroke="#3a3ad8" stroke-width="0.45"/>
<circle cx="355.0" cy="449.6" r="0.8" fill="none" stroke="#3a3ad8" stroke-width="0.45"/>
<circle cx="358.1" cy="454.3" r="0.8" fill="none" stroke="#3a3ad8" stroke-width="0.45"/>
<circle cx="355.2" cy="447.6" r="0.8" fill="none" stroke="#3a3ad8" stroke-width="0.45"/>
<circle cx="382.6" cy="450.6" r="0.8" fill="none" stroke="#3a3ad8" stroke-width="0.45"/>
<circle cx="358.6" cy="453.9" r="0.8" fill="none" stroke="#3a3ad8" stroke-width="0.45"/>
<circle cx="358.9" cy="452.5" r="0.8" fill="none" stroke="#3a3ad8" stroke-width="0.45"/>
<circle cx="356.4" cy="452.6" r="0.8" fill="none" stroke="#3a3ad8" stroke-width="0.45"/>
<circle cx="358.3" cy="441.9" r="0.8" fill="none" stroke="#3a3ad8" stroke-width="0.45"/>
<circle cx="357.9" cy="441.5" r="0.8" fill="none" stroke="#3a3ad8" stroke-width="0.45"/>
<circle cx="356.4" cy="331.1" r="0.9" fill="none" stroke="#5a5ab0" stroke-width="0.45"/>
<circle cx="353.3" cy="334.7" r="0.9" fill="none" stroke="#5a5ab0" stroke-width="0.45"/>
<circle cx="363.3" cy="333.3" r="0.9" fill="none" stroke="#5a5ab0" stroke-width="0.45"/>
<circle cx="354.2" cy="341.1" r="0.9" fill="none" stroke="#5a5ab0" stroke-width="0.45"/>
<circle cx="357.5" cy="342.2" r="0.9" fill="none" stroke="#5a5ab0" stroke-width="0.45"/>
<circle cx="355.0" cy="347.8" r="0.9" fill="none" stroke="#5a5ab0" stroke-width="0.45"/>
<circle cx="396.4" cy="352.8" r="0.9" fill="none" stroke="#5a5ab0" stroke-width="0.45"/>
<circle cx="361.1" cy="370.0" r="0.9" fill="none" stroke="#5a5ab0" stroke-width="0.45"/>
<circle cx="354.2" cy="381.4" r="0.9" fill="none" stroke="#5a5ab0" stroke-width="0.45"/>
<circle cx="379.2" cy="383.9" r="0.9" fill="none" stroke="#5a5ab0" stroke-width="0.45"/>
<circle cx="393.9" cy="381.9" r="0.9" fill="none" stroke="#5a5ab0" stroke-width="0.45"/>
<circle cx="408.3" cy="392.5" r="0.9" fill="none" stroke="#5a5ab0" stroke-width="0.45"/>
<circle cx="360.6" cy="393.9" r="0.9" fill="none" stroke="#5a5ab0" stroke-width="0.45"/>
<circle cx="365.8" cy="396.7" r="0.9" fill="none" stroke="#5a5ab0" stroke-width="0.45"/>
<circle cx="385.3" cy="396.7" r="0.9" fill="none" stroke="#5a5ab0" stroke-width="0.45"/>
<circle cx="407.8" cy="398.6" r="0.9" fill="none" stroke="#5a5ab0" stroke-width="0.45"/>
<circle cx="386.9" cy="405.0" r="0.9" fill="none" stroke="#5a5ab0" stroke-width="0.45"/>
<circle cx="401.4" cy="402.8" r="0.9" fill="none" stroke="#5a5ab0" stroke-width="0.45"/>
<circle cx="401.9" cy="405.6" r="0.9" fill="none" stroke="#5a5ab0" stroke-width="0.45"/>
<circle cx="359.2" cy="400.0" r="0.9" fill="none" stroke="#5a5ab0" stroke-width="0.45"/>
<circle cx="383.3" cy="410.6" r="0.9" fill="none" stroke="#5a5ab0" stroke-width="0.45"/>
<circle cx="368.9" cy="413.1" r="0.9" fill="none" stroke="#5a5ab0" stroke-width="0.45"/>
<circle cx="363.3" cy="423.1" r="0.9" fill="none" stroke="#5a5ab0" stroke-width="0.45"/>
<circle cx="377.2" cy="423.6" r="0.9" fill="none" stroke="#5a5ab0" stroke-width="0.45"/>
<circle cx="395.8" cy="424.4" r="0.9" fill="none" stroke="#5a5ab0" stroke-width="0.45"/>
<circle cx="436.7" cy="440.3" r="0.9" fill="none" stroke="#5a5ab0" stroke-width="0.45"/>
<circle cx="496.1" cy="411.9" r="0.9" fill="none" stroke="#5a5ab0" stroke-width="0.45"/>
<circle cx="400.8" cy="437.5" r="0.9" fill="none" stroke="#5a5ab0" stroke-width="0.45"/>
<circle cx="400.8" cy="450.0" r="0.9" fill="none" stroke="#5a5ab0" stroke-width="0.45"/>
<circle cx="409.7" cy="452.8" r="0.9" fill="none" stroke="#5a5ab0" stroke-width="0.45"/>
<circle cx="420.0" cy="452.2" r="0.9" fill="none" stroke="#5a5ab0" stroke-width="0.45"/>
<circle cx="383.3" cy="441.7" r="0.9" fill="none" stroke="#5a5ab0" stroke-width="0.45"/>
<circle cx="390.3" cy="442.2" r="0.9" fill="none" stroke="#5a5ab0" stroke-width="0.45"/>
<circle cx="373.6" cy="444.4" r="0.9" fill="none" stroke="#5a5ab0" stroke-width="0.45"/>
<circle cx="366.7" cy="431.9" r="0.9" fill="none" stroke="#5a5ab0" stroke-width="0.45"/>
<circle cx="370.8" cy="432.8" r="0.9" fill="none" stroke="#5a5ab0" stroke-width="0.45"/>
<circle cx="381.9" cy="434.7" r="0.9" fill="none" stroke="#5a5ab0" stroke-width="0.45"/>
<circle cx="358.3" cy="408.3" r="0.9" fill="none" stroke="#5a5ab0" stroke-width="0.45"/>
<circle cx="361.7" cy="411.1" r="0.9" fill="none" stroke="#5a5ab0" stroke-width="0.45"/>
<circle cx="364.4" cy="416.7" r="0.9" fill="none" stroke="#5a5ab0" stroke-width="0.45"/>
<circle cx="359.7" cy="413.9" r="0.9" fill="none" stroke="#5a5ab0" stroke-width="0.45"/>
<circle cx="356.9" cy="391.7" r="0.9" fill="none" stroke="#5a5ab0" stroke-width="0.45"/>
<rect x="329.7" y="321.4" width="193.90000000000003" height="144.70000000000005" fill="none" stroke="#3c3c3c" stroke-width="0.9"/>
<rect x="531.4" y="320.5" width="206.30000000000007" height="11.3" fill="#1f4a88"/>
<rect x="531.4" y="331.80" width="206.30000000000007" height="12.79" fill="#d3d3d3"/>
<rect x="531.4" y="344.54" width="206.30000000000007" height="12.79" fill="#ffffff"/>
<rect x="531.4" y="357.28" width="206.30000000000007" height="12.79" fill="#d3d3d3"/>
<rect x="531.4" y="370.02" width="206.30000000000007" height="12.79" fill="#ffffff"/>
<rect x="531.4" y="382.76" width="206.30000000000007" height="12.79" fill="#d3d3d3"/>
<rect x="531.4" y="395.50" width="206.30000000000007" height="12.79" fill="#ffffff"/>
<rect x="531.4" y="408.24" width="206.30000000000007" height="12.79" fill="#d3d3d3"/>
<rect x="531.4" y="420.98" width="206.30000000000007" height="12.79" fill="#ffffff"/>
<rect x="531.4" y="433.72" width="206.30000000000007" height="12.79" fill="#d3d3d3"/>
<rect x="531.4" y="446.46" width="206.30000000000007" height="12.79" fill="#ffffff"/>
<rect x="531.4" y="459.20" width="206.30000000000007" height="12.79" fill="#d3d3d3"/>
<rect x="531.4" y="357.28" width="52.80000000000007" height="50.96" fill="#d3d3d3"/>
<line x1="531.4" y1="382.76" x2="584.2" y2="382.76" stroke="#e8e8e8" stroke-width="0.5"/>
<line x1="769.2" y1="295.1" x2="1029.3" y2="295.1" stroke="#a292d8" stroke-width="1.3" stroke-linecap="round"/>
<line x1="823" y1="225.8" x2="879.2" y2="295" stroke="#e57d7d" stroke-width="1.2" stroke-linecap="round"/>
<line x1="789.2" y1="259.2" x2="848.6" y2="259.2" stroke="#e57d7d" stroke-width="1.2" stroke-linecap="round"/>
<line x1="808.3" y1="249.2" x2="817.5" y2="259.2" stroke="#e57d7d" stroke-width="1.2" stroke-linecap="round"/>
<line x1="830.8" y1="259.2" x2="825" y2="266.7" stroke="#e57d7d" stroke-width="1.2" stroke-linecap="round"/>
<line x1="927.2" y1="228.6" x2="979.7" y2="295" stroke="#e57d7d" stroke-width="1.2" stroke-linecap="round"/>
<line x1="928.9" y1="255.3" x2="940.1" y2="244.9" stroke="#e57d7d" stroke-width="1.2" stroke-linecap="round"/>
<line x1="951.3" y1="259.6" x2="962.5" y2="248.7" stroke="#e57d7d" stroke-width="1.2" stroke-linecap="round"/>
<line x1="971.1" y1="282.8" x2="980.2" y2="272.5" stroke="#e57d7d" stroke-width="1.2" stroke-linecap="round"/>
<line x1="861.7" y1="295.8" x2="807.5" y2="360" stroke="#a292d8" stroke-width="1.2" stroke-linecap="round"/>
<line x1="829.2" y1="312.5" x2="840" y2="320.8" stroke="#a292d8" stroke-width="1.2" stroke-linecap="round"/>
<line x1="849.2" y1="309.7" x2="860.8" y2="315.8" stroke="#a292d8" stroke-width="1.2" stroke-linecap="round"/>
<line x1="828.3" y1="335" x2="838.7" y2="344.2" stroke="#a292d8" stroke-width="1.2" stroke-linecap="round"/>
<line x1="979.7" y1="295.2" x2="925.5" y2="361" stroke="#a292d8" stroke-width="1.2" stroke-linecap="round"/>
<line x1="946.1" y1="311.9" x2="958.2" y2="321.3" stroke="#a292d8" stroke-width="1.2" stroke-linecap="round"/>
<line x1="970.6" y1="305.8" x2="981.5" y2="315.7" stroke="#a292d8" stroke-width="1.2" stroke-linecap="round"/>
<line x1="943.6" y1="339.4" x2="954.8" y2="348" stroke="#a292d8" stroke-width="1.2" stroke-linecap="round"/>
<circle cx="1069.1" cy="196.30" r="10.8" fill="#1431a8"/>
<path d="M1063.50,196.00 L1067.50,200.20 L1074.70,192.30" fill="none" stroke="#fff" stroke-width="2.3" stroke-linecap="round" stroke-linejoin="round"/>
<circle cx="1069.1" cy="232.35" r="10.8" fill="#1431a8"/>
<path d="M1063.50,232.05 L1067.50,236.25 L1074.70,228.35" fill="none" stroke="#fff" stroke-width="2.3" stroke-linecap="round" stroke-linejoin="round"/>
<circle cx="1069.1" cy="268.40" r="10.8" fill="#1431a8"/>
<path d="M1063.50,268.10 L1067.50,272.30 L1074.70,264.40" fill="none" stroke="#fff" stroke-width="2.3" stroke-linecap="round" stroke-linejoin="round"/>
<circle cx="1069.1" cy="304.45" r="10.8" fill="#1431a8"/>
<path d="M1063.50,304.15 L1067.50,308.35 L1074.70,300.45" fill="none" stroke="#fff" stroke-width="2.3" stroke-linecap="round" stroke-linejoin="round"/>
<circle cx="1069.1" cy="340.50" r="10.8" fill="#1431a8"/>
<path d="M1063.50,340.20 L1067.50,344.40 L1074.70,336.50" fill="none" stroke="#fff" stroke-width="2.3" stroke-linecap="round" stroke-linejoin="round"/>
<circle cx="1069.1" cy="376.55" r="10.8" fill="#1431a8"/>
<path d="M1063.50,376.25 L1067.50,380.45 L1074.70,372.55" fill="none" stroke="#fff" stroke-width="2.3" stroke-linecap="round" stroke-linejoin="round"/>
</svg>
<div class="t" style="left:152.34px;top:20px;font-size:26px;line-height:30px;color:#0b2e9b;font-weight:700;transform:scaleX(1.1557);">Lipoprotein(a) as a predictive marker of coronary artery calcification (CAC).</div>
<div class="t" style="left:363.00px;top:50px;font-size:26px;line-height:30px;color:#0b2e9b;font-weight:700;transform:scaleX(1.1553);">The results from the STAR-Lp(a) cohort study.</div>
<div class="t" style="left:32.50px;top:107px;font-size:7.4px;line-height:9px;color:#111;font-weight:700;font-family:'Liberation Serif', serif;transform:scaleX(0.8983);">Maciej Banach</div>
<div class="t" style="left:200.66px;top:108px;font-size:17.5px;line-height:20px;color:#1a6d9f;font-weight:700;transform:scaleX(1.1359);">Monika Burzyńska</div>
<div class="t" style="left:382.50px;top:106px;font-size:13.3px;line-height:15px;color:#1a6d9f;font-weight:700;transform:scaleX(1.1149);">1,4</div>
<div class="t" style="left:432.64px;top:108px;font-size:17.5px;line-height:20px;color:#1a6d9f;font-weight:700;transform:scaleX(1.1631);">Mateusz Babicki</div>
<div class="t" style="left:594.50px;top:106px;font-size:13.3px;line-height:15px;color:#1a6d9f;font-weight:700;transform:scaleX(1.1410);">2</div>
<div class="t u" style="left:631.34px;top:108px;font-size:17.5px;line-height:20px;color:#1a6d9f;font-weight:700;transform:scaleX(1.1552);">Maciej Banach</div>
<div class="t" style="left:775.00px;top:106px;font-size:13.3px;line-height:15px;color:#1a6d9f;font-weight:700;transform:scaleX(1.0697);">3</div>
<div class="t" style="left:814.66px;top:108px;font-size:17.5px;line-height:20px;color:#1a6d9f;font-weight:700;transform:scaleX(1.1432);">Piotr Jankowski</div>
<div class="t" style="left:971.80px;top:106px;font-size:13.3px;line-height:15px;color:#1a6d9f;font-weight:700;transform:scaleX(1.1097);">4,5</div>
<div class="t" style="left:1017.62px;top:108px;font-size:17.5px;line-height:20px;color:#1a6d9f;font-weight:700;transform:scaleX(1.1781);">Michał Chudzik</div>
<div class="t" style="left:1172.50px;top:106px;font-size:13.3px;line-height:15px;color:#1a6d9f;font-weight:700;transform:scaleX(0.9362);">4</div>
<div class="t u" style="left:110.50px;top:146px;font-size:14px;line-height:16px;color:#1b2a80;font-weight:700;transform:scaleX(1.2078);">INTRODUCTION</div>
<div class="t u" style="left:483.27px;top:140px;font-size:15px;line-height:17px;color:#2a2180;font-weight:700;transform:scaleX(1.0297);">PURPOSE</div>
<div class="t u" style="left:743.80px;top:141px;font-size:14.5px;line-height:16px;color:#1b2a80;font-weight:700;transform:scaleX(1.1583);">MATERIAL</div>
<div class="t u" style="left:1059.42px;top:140px;font-size:15px;line-height:17px;color:#1b2a80;font-weight:700;transform:scaleX(1.0812);">METHODS</div>
<div class="t u" style="left:109.98px;top:287px;font-size:15.5px;line-height:17px;color:#1b2a80;font-weight:700;transform:scaleX(1.0162);">RESULTS</div>
<div class="t u" style="left:110.50px;top:503px;font-size:14.5px;line-height:16px;color:#1b2a80;font-weight:700;transform:scaleX(1.1285);">CONCLUSIONS</div>
<div class="t" style="left:109.20px;top:177px;font-size:11.6px;line-height:12px;color:#27324f;transform:scaleX(1.1311);word-spacing:9.743px;">Effective risk assessment for cardiovascular diseases</div>
<div class="t" style="left:109.20px;top:191px;font-size:11.6px;line-height:12px;color:#27324f;transform:scaleX(1.1311);word-spacing:5.087px;">development is essential for early identification of at-risk</div>
<div class="t" style="left:109.20px;top:205px;font-size:11.6px;line-height:12px;color:#27324f;transform:scaleX(1.1311);word-spacing:8.658px;">individuals, enabling the implementation of appropriate</div>
<div class="t" style="left:109.20px;top:219px;font-size:11.6px;line-height:12px;color:#27324f;transform:scaleX(1.1311);word-spacing:0.908px;">preventive measures globally, as well as forming the basis for</div>
<div class="t" style="left:109.20px;top:233px;font-size:11.6px;line-height:12px;color:#27324f;transform:scaleX(1.1311);word-spacing:4.102px;">proper management of their therapy. <u>Lipoprotein(a) [Lp(a)]</u></div>
<div class="t" style="left:109.20px;top:247px;font-size:11.6px;line-height:12px;color:#27324f;transform:scaleX(1.1311);word-spacing:1.502px;"><u>concentration is an independent risk factor for cardiovascular</u></div>
<div class="t" style="left:109.20px;top:261px;font-size:11.6px;line-height:12px;color:#27324f;transform:scaleX(1.1311);"><u>disease, including atherosclerosis.</u></div>
<div class="t" style="left:488.60px;top:178px;font-size:11.6px;line-height:12px;color:#27324f;transform:scaleX(1.1319);word-spacing:1.817px;">The aim of the study was to assess the</div>
<div class="t" style="left:488.60px;top:190px;font-size:11.6px;line-height:12px;color:#27324f;transform:scaleX(1.1319);word-spacing:2.835px;">relationship between the elevated Lp(a)</div>
<div class="t" style="left:488.60px;top:202px;font-size:11.6px;line-height:12px;color:#27324f;transform:scaleX(1.1319);word-spacing:9.348px;">levels, and the risk of developing</div>
<div class="t" style="left:488.60px;top:214px;font-size:11.6px;line-height:12px;color:#27324f;transform:scaleX(1.1319);word-spacing:1.624px;">atherosclerosis assessed using coronary</div>
<div class="t" style="left:488.60px;top:226px;font-size:11.6px;line-height:12px;color:#27324f;transform:scaleX(1.1319);">artery calcium (CAC) score.</div>
<div class="t" style="left:743.30px;top:400px;font-size:11.8px;line-height:14px;color:#27324f;transform:scaleX(1.1459);word-spacing:2.782px;">Positive significant correlation between CAC score and age was revealed (r=0.266,</div>
<div class="t" style="left:743.30px;top:413px;font-size:11.8px;line-height:14px;color:#27324f;transform:scaleX(1.1459);word-spacing:0.777px;">p&lt;0.001). An analogous relationship was observed regarding to glucose level (r=0.123,</div>
<div class="t" style="left:743.30px;top:425px;font-size:11.8px;line-height:14px;color:#27324f;transform:scaleX(1.1459);word-spacing:0.079px;">p=0.012). We also showed a significant relationship between the level of Lp(a) and CAC</div>
<div class="t" style="left:743.30px;top:437px;font-size:11.8px;line-height:14px;color:#27324f;transform:scaleX(1.1459);word-spacing:1.116px;">score (r=0.113, p=0.009) (<b>Figure 1</b>) – higher Lp(a) levels were significantly associated</div>
<div class="t" style="left:744.45px;top:449px;font-size:11.8px;line-height:14px;color:#27324f;transform:scaleX(1.1459);">with the the CAC score increase. For every 10 mg/dL (25 nmol/l) increase of Lp(a), CAC</div>
<div class="t" style="left:743.30px;top:461px;font-size:11.8px;line-height:14px;color:#27324f;transform:scaleX(1.1459);word-spacing:0.018px;">score increases by 15.7±0.57 (p=0.006) (<b>Figure 2</b>). The mean CAC among patients with</div>
<div class="t" style="left:743.30px;top:474px;font-size:11.8px;line-height:14px;color:#27324f;transform:scaleX(1.1459);word-spacing:1.537px;">normal Lp(a) level (&lt;30 mg/dl) was 203.1 (±412.6) and respectively 206.6 (±460.1) in</div>
<div class="t" style="left:743.30px;top:486px;font-size:11.8px;line-height:14px;color:#27324f;transform:scaleX(1.1459);word-spacing:0.568px;">those at moderate cardiovascular risk (Lp(a) between 30-50 mg/dl), and 335.6 (±784.9)</div>
<div class="t" style="left:743.30px;top:498px;font-size:11.8px;line-height:14px;color:#27324f;transform:scaleX(1.1459);word-spacing:3.321px;">for people with high risk (Lp(a) &gt;50 mg/dl; p=0.183). In the regression model the</div>
<div class="t" style="left:743.30px;top:510px;font-size:11.8px;line-height:14px;color:#27324f;transform:scaleX(1.1459);word-spacing:1.503px;">factors determining the absence of atherosclerosis (CAC=0; “power of zero”) included</div>
<div class="t" style="left:743.30px;top:523px;font-size:11.8px;line-height:14px;color:#27324f;transform:scaleX(1.1459);word-spacing:1.142px;">female gender (OR = 4.05; 95%CI: 2.48-6.59), age over 65 (OR = 0.06; 95%CI: 0.01-</div>
<div class="t" style="left:743.30px;top:535px;font-size:11.8px;line-height:14px;color:#27324f;transform:scaleX(1.1459);word-spacing:1.617px;">0.263), and Lp(A) ≤50 mg/dl (≤125 nmol/l) (OR=2.26; 95%CI: 1.12-4.61). People with</div>
<div class="t" style="left:743.30px;top:547px;font-size:11.8px;line-height:14px;color:#27324f;transform:scaleX(1.1459);word-spacing:2.348px;">hypertension had also a significantly lower odds of CAC=0 (OR=0.58; 9%5CI: 0.38-</div>
<div class="t" style="left:743.30px;top:559px;font-size:11.8px;line-height:14px;color:#27324f;transform:scaleX(1.1459);word-spacing:2.305px;">0.89). Interesingly, statin therapy did not influence significantly the chance of having</div>
<div class="t" style="left:743.30px;top:572px;font-size:11.8px;line-height:14px;color:#27324f;transform:scaleX(1.1603);">CAC=0 in the investigated population (OR 1.40; 95%CI; 0.93-2.11) (<b>Table 1</b>).</div>
<div class="t" style="left:109.50px;top:528px;font-size:10.9px;line-height:12px;color:#161d6b;font-weight:700;transform:scaleX(1.2637);word-spacing:3.911px;">The study showed relationship between increased Lp(a) levels, and the progression of</div>
<div class="t" style="left:109.50px;top:543px;font-size:10.9px;line-height:12px;color:#161d6b;font-weight:700;transform:scaleX(1.2637);">atherosclerosis expressed by the CACS. Results confirm some existing recommendations that</div>
<div class="t" style="left:109.50px;top:558px;font-size:10.9px;line-height:12px;color:#161d6b;font-weight:700;transform:scaleX(1.2637);word-spacing:2.638px;">if an elevated Lp(a) level is found in a patient for primary prevention, CACS assessment</div>
<div class="t" style="left:109.50px;top:573px;font-size:10.9px;line-height:12px;color:#161d6b;font-weight:700;transform:scaleX(1.2671);">should be considered for more appropriate risk stratification.</div>
<div class="t" style="left:110.30px;top:609px;font-size:5px;line-height:6px;color:#2d396c;font-weight:700;">1</div>
<div class="t" style="left:116.80px;top:609px;font-size:7.4px;line-height:9px;color:#2d396c;transform:scaleX(1.2477);">Department of Epidemiology and Biostatistics, the Chair of Social and Preventive Medicine, Medical University of Lodz (MUL), Lodz, Poland</div>
<div class="t" style="left:110.30px;top:618px;font-size:5px;line-height:6px;color:#2d396c;font-weight:700;">2</div>
<div class="t" style="left:115.50px;top:619px;font-size:7.4px;line-height:9px;color:#2d396c;transform:scaleX(1.2520);">Department of Family Medicine, Wroclaw Medical University, Wroclaw, Poland</div>
<div class="t" style="left:110.30px;top:628px;font-size:5px;line-height:6px;color:#2d396c;font-weight:700;">3</div>
<div class="t" style="left:116.80px;top:629px;font-size:7.4px;line-height:9px;color:#2d396c;transform:scaleX(1.2471);">Department of Preventive Cardiology and Lipidology, Medical University of Lodz (MUL), Lodz, Poland</div>
<div class="t" style="left:110.30px;top:638px;font-size:5px;line-height:6px;color:#2d396c;font-weight:700;">4</div>
<div class="t" style="left:115.50px;top:639px;font-size:7.4px;line-height:9px;color:#2d396c;transform:scaleX(1.2493);">Department of Internal Medicine and Geriatric Cardiology, Centre of Postgraduate Medical Education, Warsaw, Poland</div>
<div class="t" style="left:110.30px;top:648px;font-size:5px;line-height:6px;color:#2d396c;font-weight:700;">5</div>
<div class="t" style="left:115.50px;top:649px;font-size:7.4px;line-height:9px;color:#2d396c;transform:scaleX(1.2445);">Department of Epidemiology and Health Promotion, School of Public Health, Centre of Postgraduate Medical Education, Warsaw, Poland</div>
<div class="t" style="left:133.80px;top:664px;font-size:12.2px;line-height:14px;color:#222;font-family:'Liberation Serif', serif;transform:scaleX(0.9824);">Declaration of interest:</div>
<div class="t" style="left:133.80px;top:679px;font-size:7.4px;line-height:9px;color:#222;font-family:'Liberation Serif', serif;transform:scaleX(1.0608);">I have nothing to declare</div>
<div class="t" style="left:739.50px;top:609px;font-size:7.4px;line-height:9px;color:#2d396c;transform:scaleX(1.2709);word-spacing:0.787px;"><b>Conflict of interest</b>: PJ – research grants and remuneration for lectures and consultancy from: Amgen, Novartis, Polpharma,</div>
<div class="t" style="left:739.50px;top:619px;font-size:7.4px;line-height:9px;color:#2d396c;transform:scaleX(1.2709);word-spacing:1.541px;">Sanofi, Servier, Zentiva; M.Banach has received research grant(s)/support from Amgen, Daiichi-Sankyo, Mylan, Sanofi and</div>
<div class="t" style="left:739.50px;top:629px;font-size:7.4px;line-height:9px;color:#2d396c;transform:scaleX(1.2709);">Valeant, and has received a renumeration and/or served as a consultant for Adamed, Amgen, Daiichi-Sankyo, Esperion, ExCEEd</div>
<div class="t" style="left:739.50px;top:639px;font-size:7.4px;line-height:9px;color:#2d396c;transform:scaleX(1.2709);word-spacing:0.667px;">Orphan, Kogen, KRKA, Mylan/Viatris, NewAmsterdam Pharma, Novartis, Novo-Nordisk, Polpharma, Sanofi, Servier, Teva, and</div>
<div class="t" style="left:739.50px;top:649px;font-size:7.4px;line-height:9px;color:#2d396c;transform:scaleX(1.2731);">Zentiva. Other co-authors do not declare any conflict of interests.</div>
<div class="t" style="left:117.80px;top:481px;font-size:6.4px;line-height:7px;color:#1c2f86;font-weight:700;transform:scaleX(1.0626);">Fig.1. CAC level in subgroups according to Lp(a)</div>
<div class="t" style="left:334.70px;top:481px;font-size:6.4px;line-height:7px;color:#1c2f86;font-weight:700;transform:scaleX(1.0635);">Fig.2. Correlation between Lp(a_ and CACS</div>
<div class="t" style="left:533.20px;top:481px;font-size:6.3px;line-height:7px;color:#1c2f86;font-weight:700;transform:scaleX(1.1012);">Tab.1. Probability of CAC=0 – multivariate logistic regression</div>
<div class="t" style="left:1093.80px;top:187px;font-size:15.5px;line-height:17px;color:#2f2f33;transform:scaleX(1.0619);">desriptive statistics</div>
<div class="t" style="left:1093.80px;top:223px;font-size:15.5px;line-height:17px;color:#2f2f33;transform:scaleX(1.0863);">chi-square test</div>
<div class="t" style="left:1092.73px;top:259px;font-size:15.5px;line-height:17px;color:#2f2f33;transform:scaleX(1.0725);">U-Mann-Whitney test</div>
<div class="t" style="left:1092.75px;top:294px;font-size:15.5px;line-height:17px;color:#2f2f33;transform:scaleX(1.0458);">Kruskal-Wallis test</div>
<div class="t" style="left:1092.75px;top:330px;font-size:15.5px;line-height:17px;color:#2f2f33;transform:scaleX(1.0494);">Pearson's correlation</div>
<div class="t" style="left:1092.74px;top:366px;font-size:15.5px;line-height:17px;color:#2f2f33;transform:scaleX(1.0642);">logistic regression</div>
<div class="t" style="left:765.50px;top:182px;font-size:14px;line-height:16px;color:#1d4d9e;font-weight:700;transform:scaleX(1.1248);">533 primary prevention patients</div>
<div class="t" style="left:799.50px;top:213px;font-size:8.6px;line-height:10px;color:#2b3a86;font-weight:700;transform:scaleX(1.3533);">Sex</div>
<div class="t" style="left:909.50px;top:212px;font-size:8.6px;line-height:10px;color:#2a62aa;font-weight:700;transform:scaleX(1.0929);">Age</div>
<div class="t" style="left:899.60px;top:223px;font-size:6.6px;line-height:7px;color:#151a3a;font-weight:700;transform:scaleX(1.1279);">(65.8 ± 10.1)</div>
<div class="t" style="left:801.80px;top:366px;font-size:8.6px;line-height:10px;color:#1d2a6e;font-weight:700;transform:scaleX(1.1348);">Lp (a)</div>
<div class="t" style="left:904.80px;top:367px;font-size:9px;line-height:10px;color:#2a62aa;font-weight:700;transform:scaleX(1.1014);">CACS</div>
<div class="t" style="left:748.70px;top:239px;font-size:7px;line-height:7px;color:#264fa8;font-weight:700;transform:scaleX(1.1545);">Male - 182 (34.3%)</div>
<div class="t" style="left:777.00px;top:272px;font-size:7px;line-height:7px;color:#264fa8;font-weight:700;transform:scaleX(1.1327);">Female - 351 (65.7%)</div>
<div class="t" style="left:972.00px;top:237px;font-size:7px;line-height:7px;color:#264fa8;font-weight:700;transform:scaleX(1.1552);">40-65 years</div>
<div class="t" style="left:972.00px;top:246px;font-size:7px;line-height:7px;color:#264fa8;font-weight:700;transform:scaleX(1.1637);">199 (37.3%)</div>
<div class="t" style="left:891.90px;top:260px;font-size:7px;line-height:7px;color:#264fa8;font-weight:700;transform:scaleX(1.1107);">18-39 years</div>
<div class="t" style="left:898.80px;top:268px;font-size:7px;line-height:7px;color:#264fa8;font-weight:700;transform:scaleX(1.0527);">11 (2.1%)</div>
<div class="t" style="left:998.70px;top:264px;font-size:7px;line-height:7px;color:#264fa8;font-weight:700;transform:scaleX(1.0797);">&gt;65 years</div>
<div class="t" style="left:993.20px;top:272px;font-size:7px;line-height:7px;color:#264fa8;font-weight:700;transform:scaleX(1.2166);">324 (60.6%)</div>
<div class="t" style="left:785.80px;top:301px;font-size:7px;line-height:7px;color:#264fa8;font-weight:700;transform:scaleX(1.1678);">0-30 mg/dl</div>
<div class="t" style="left:784.20px;top:310px;font-size:7px;line-height:7px;color:#264fa8;font-weight:700;transform:scaleX(1.1135);">394 (73.9%)</div>
<div class="t" style="left:856.30px;top:320px;font-size:7px;line-height:7px;color:#264fa8;font-weight:700;transform:scaleX(1.1459);">30-50 mg/dl</div>
<div class="t" style="left:861.70px;top:329px;font-size:7px;line-height:7px;color:#264fa8;font-weight:700;transform:scaleX(1.0523);">42 (7.9%)</div>
<div class="t" style="left:843.30px;top:341px;font-size:7px;line-height:7px;color:#264fa8;font-weight:700;transform:scaleX(1.1033);">&gt;50 mg/dl</div>
<div class="t" style="left:842.50px;top:350px;font-size:7px;line-height:7px;color:#264fa8;font-weight:700;transform:scaleX(1.0555);">97 (18.2%)</div>
<div class="t" style="left:897.40px;top:297px;font-size:7px;line-height:7px;color:#264fa8;font-weight:700;transform:scaleX(1.0587);">0 - power of zero</div>
<div class="t" style="left:905.30px;top:306px;font-size:7px;line-height:7px;color:#264fa8;font-weight:700;transform:scaleX(1.0897);">190 (35.6%)</div>
<div class="t" style="left:989.20px;top:311px;font-size:7px;line-height:7px;color:#264fa8;font-weight:700;transform:scaleX(1.1658);">0-100</div>
<div class="t" style="left:979.70px;top:320px;font-size:7px;line-height:7px;color:#264fa8;font-weight:700;transform:scaleX(1.0474);">161 (30.2%)</div>
<div class="t" style="left:960.80px;top:346px;font-size:7px;line-height:7px;color:#264fa8;font-weight:700;transform:scaleX(1.1332);">&gt; 100</div>
<div class="t" style="left:950.10px;top:353px;font-size:7px;line-height:7px;color:#264fa8;font-weight:700;transform:scaleX(1.0712);">182 (34.2%)</div>
<div class="t" style="left:557.70px;top:323px;font-size:8.2px;line-height:9px;color:#ffffff;font-weight:700;transform:scaleX(0.9666);">Variables</div>
<div class="t" style="left:643.30px;top:323px;font-size:8.2px;line-height:9px;color:#ffffff;font-weight:700;transform:scaleX(0.9551);">OR [95CI]</div>
<div class="t" style="left:718.20px;top:322px;font-size:8.2px;line-height:9px;color:#ffffff;font-weight:700;transform:scaleX(0.8775);">p</div>
<div class="t" style="left:533.10px;top:335px;font-size:7px;line-height:7px;color:#1f3566;font-weight:700;transform:scaleX(1.0776);">BMI</div>
<div class="t" style="left:533.10px;top:348px;font-size:7px;line-height:7px;color:#1f3566;font-weight:700;transform:scaleX(0.9912);">Sex, female</div>
<div class="t" style="left:533.10px;top:368px;font-size:7px;line-height:7px;color:#1f3566;font-weight:700;transform:scaleX(0.9294);">Age</div>
<div class="t" style="left:533.10px;top:393px;font-size:7px;line-height:7px;color:#1f3566;font-weight:700;transform:scaleX(0.9477);">Lp(a)</div>
<div class="t" style="left:533.10px;top:411px;font-size:7px;line-height:7px;color:#1f3566;font-weight:700;transform:scaleX(1.0099);">Hypertension</div>
<div class="t" style="left:533.10px;top:424px;font-size:7px;line-height:7px;color:#1f3566;font-weight:700;transform:scaleX(1.0240);">Hyperlipidemia</div>
<div class="t" style="left:533.10px;top:437px;font-size:7px;line-height:7px;color:#1f3566;font-weight:700;transform:scaleX(0.9934);">Diabetes</div>
<div class="t" style="left:533.10px;top:450px;font-size:7px;line-height:7px;color:#1f3566;font-weight:700;transform:scaleX(1.0099);">Hypothyroidism</div>
<div class="t" style="left:533.10px;top:462px;font-size:7px;line-height:7px;color:#1f3566;font-weight:700;transform:scaleX(0.9595);">Statins</div>
<div class="t" style="left:585.50px;top:360px;font-size:7px;line-height:7px;color:#4a5568;transform:scaleX(1.0181);">40 - 65</div>
<div class="t" style="left:585.50px;top:373px;font-size:7px;line-height:7px;color:#4a5568;transform:scaleX(1.0432);">&gt;65</div>
<div class="t" style="left:585.50px;top:386px;font-size:7px;line-height:7px;color:#4a5568;transform:scaleX(1.0548);">30-50</div>
<div class="t" style="left:585.50px;top:399px;font-size:7px;line-height:7px;color:#4a5568;transform:scaleX(1.0432);">&gt;50</div>
<div class="t" style="left:634.10px;top:335px;font-size:7px;line-height:7px;color:#4a5568;transform:scaleX(1.0599);">1.00 [0.97, 1.05]</div>
<div class="t" style="left:711.10px;top:335px;font-size:7px;line-height:7px;color:#4a5568;transform:scaleX(1.0432);">0.675</div>
<div class="t" style="left:634.10px;top:348px;font-size:7px;line-height:7px;color:#4a5568;transform:scaleX(1.0599);">4.05 [2.48, 6.59]</div>
<div class="t" style="left:708.90px;top:348px;font-size:7px;line-height:7px;color:#1a1f3a;font-weight:700;transform:scaleX(1.0315);">&lt;0.001</div>
<div class="t" style="left:634.10px;top:360px;font-size:7px;line-height:7px;color:#4a5568;transform:scaleX(1.0599);">0.31 [0.07, 1.34]</div>
<div class="t" style="left:711.10px;top:360px;font-size:7px;line-height:7px;color:#4a5568;transform:scaleX(1.0756);">0.119</div>
<div class="t" style="left:634.10px;top:373px;font-size:7px;line-height:7px;color:#4a5568;transform:scaleX(1.0599);">0.06 [0.01, 0.26]</div>
<div class="t" style="left:708.90px;top:373px;font-size:7px;line-height:7px;color:#1a1f3a;font-weight:700;transform:scaleX(1.0315);">&lt;0.001</div>
<div class="t" style="left:634.10px;top:386px;font-size:7px;line-height:7px;color:#4a5568;transform:scaleX(1.0599);">2.26 [1.12, 4.61]</div>
<div class="t" style="left:711.00px;top:386px;font-size:7px;line-height:7px;color:#22284a;font-weight:700;transform:scaleX(1.1056);">0.023</div>
<div class="t" style="left:634.10px;top:399px;font-size:7px;line-height:7px;color:#4a5568;transform:scaleX(1.0599);">0.77 [0.45, 1.31]</div>
<div class="t" style="left:711.10px;top:399px;font-size:7px;line-height:7px;color:#4a5568;transform:scaleX(1.0432);">0.343</div>
<div class="t" style="left:634.10px;top:411px;font-size:7px;line-height:7px;color:#4a5568;transform:scaleX(1.0599);">0.58 [0.38, 0.89]</div>
<div class="t" style="left:711.00px;top:411px;font-size:7px;line-height:7px;color:#22284a;font-weight:700;transform:scaleX(1.1056);">0.013</div>
<div class="t" style="left:634.10px;top:424px;font-size:7px;line-height:7px;color:#4a5568;transform:scaleX(1.0599);">0.72 [0.49, 1.15]</div>
<div class="t" style="left:711.10px;top:424px;font-size:7px;line-height:7px;color:#4a5568;transform:scaleX(1.0432);">0.173</div>
<div class="t" style="left:634.10px;top:437px;font-size:7px;line-height:7px;color:#4a5568;transform:scaleX(1.0599);">0.73 [0.44, 1.22]</div>
<div class="t" style="left:711.10px;top:437px;font-size:7px;line-height:7px;color:#4a5568;transform:scaleX(1.0432);">0.233</div>
<div class="t" style="left:634.10px;top:450px;font-size:7px;line-height:7px;color:#4a5568;transform:scaleX(1.0599);">0.92 [0.55, 1.55]</div>
<div class="t" style="left:711.10px;top:450px;font-size:7px;line-height:7px;color:#4a5568;transform:scaleX(1.0432);">0.759</div>
<div class="t" style="left:634.10px;top:462px;font-size:7px;line-height:7px;color:#4a5568;transform:scaleX(1.0310);">1.40 [ 0.93, 2.11]</div>
<div class="t" style="left:711.10px;top:462px;font-size:7px;line-height:7px;color:#4a5568;transform:scaleX(1.0432);">0.106</div>
<div class="t" style="left:116.40px;top:320px;font-size:3.4px;line-height:4px;color:#777777;transform:scaleX(0.9920);">1600</div>
<div class="t" style="left:116.40px;top:340px;font-size:3.4px;line-height:4px;color:#777777;transform:scaleX(0.9920);">1200</div>
<div class="t" style="left:118.30px;top:360px;font-size:3.4px;line-height:4px;color:#777777;transform:scaleX(0.9851);">800</div>
<div class="t" style="left:118.30px;top:380px;font-size:3.4px;line-height:4px;color:#777777;transform:scaleX(0.9851);">400</div>
<div class="t" style="left:122.10px;top:401px;font-size:3.4px;line-height:4px;color:#777777;transform:scaleX(0.9477);">0</div>
<div class="t" style="left:116.40px;top:421px;font-size:3.4px;line-height:4px;color:#777777;transform:scaleX(1.0997);">-400</div>
<div class="t" style="left:116.40px;top:441px;font-size:3.4px;line-height:4px;color:#777777;transform:scaleX(1.0997);">-800</div>
<div class="t" style="left:114.50px;top:461px;font-size:3.4px;line-height:4px;color:#777777;transform:scaleX(1.0793);">-1200</div>
<div class="t" style="left:147.80px;top:466px;font-size:3.4px;line-height:4px;color:#777777;transform:scaleX(1.0997);">0-30</div>
<div class="t" style="left:195.85px;top:466px;font-size:3.4px;line-height:4px;color:#777777;transform:scaleX(1.0793);">30-50</div>
<div class="t" style="left:247.75px;top:466px;font-size:3.4px;line-height:4px;color:#777777;transform:scaleX(0.9694);">&gt;50</div>
<div class="t" style="left:188.50px;top:474px;font-size:3.4px;line-height:4px;color:#777777;transform:scaleX(1.2243);">Lipoproteina</div>
<div class="t" style="left:277.50px;top:463px;font-size:3.4px;line-height:4px;color:#777777;transform:scaleX(1.0777);">□ Mean</div>
<div class="t" style="left:277.50px;top:468px;font-size:3.4px;line-height:4px;color:#777777;transform:scaleX(1.0804);">□ Mean +/- SD</div>
<div class="t" style="left:277.50px;top:472px;font-size:3.4px;line-height:4px;color:#777777;transform:scaleX(1.1947);">⌶ Mean +/- 1.96*SD</div>
<div class="t" style="left:321.00px;top:320px;font-size:3.7px;line-height:4px;color:#555;transform:scaleX(0.9827);">240</div>
<div class="t" style="left:321.00px;top:331px;font-size:3.7px;line-height:4px;color:#555;transform:scaleX(0.9827);">220</div>
<div class="t" style="left:321.00px;top:342px;font-size:3.7px;line-height:4px;color:#555;transform:scaleX(0.9827);">200</div>
<div class="t" style="left:321.00px;top:353px;font-size:3.7px;line-height:4px;color:#555;transform:scaleX(0.9827);">180</div>
<div class="t" style="left:321.00px;top:364px;font-size:3.7px;line-height:4px;color:#555;transform:scaleX(0.9827);">160</div>
<div class="t" style="left:321.00px;top:375px;font-size:3.7px;line-height:4px;color:#555;transform:scaleX(0.9827);">140</div>
<div class="t" style="left:321.00px;top:386px;font-size:3.7px;line-height:4px;color:#555;transform:scaleX(0.9827);">120</div>
<div class="t" style="left:321.00px;top:398px;font-size:3.7px;line-height:4px;color:#555;transform:scaleX(0.9827);">100</div>
<div class="t" style="left:323.00px;top:409px;font-size:3.7px;line-height:4px;color:#555;transform:scaleX(0.9856);">80</div>
<div class="t" style="left:323.00px;top:420px;font-size:3.7px;line-height:4px;color:#555;transform:scaleX(0.9856);">60</div>
<div class="t" style="left:323.00px;top:431px;font-size:3.7px;line-height:4px;color:#555;transform:scaleX(0.9856);">40</div>
<div class="t" style="left:323.00px;top:442px;font-size:3.7px;line-height:4px;color:#555;transform:scaleX(0.9856);">20</div>
<div class="t" style="left:325.00px;top:453px;font-size:3.7px;line-height:4px;color:#555;transform:scaleX(0.9942);">0</div>
<div class="t" style="left:321.00px;top:464px;font-size:3.7px;line-height:4px;color:#555;transform:scaleX(1.1336);">-20</div>
<div class="t" style="left:324.70px;top:470px;font-size:3.7px;line-height:4px;color:#555;transform:scaleX(1.0653);">-2000</div>
<div class="t" style="left:352.30px;top:470px;font-size:3.7px;line-height:4px;color:#555;transform:scaleX(0.9942);">0</div>
<div class="t" style="left:373.80px;top:470px;font-size:3.7px;line-height:4px;color:#555;transform:scaleX(0.9794);">2000</div>
<div class="t" style="left:398.20px;top:470px;font-size:3.7px;line-height:4px;color:#555;transform:scaleX(0.9794);">4000</div>
<div class="t" style="left:422.70px;top:470px;font-size:3.7px;line-height:4px;color:#555;transform:scaleX(0.9794);">6000</div>
<div class="t" style="left:446.80px;top:470px;font-size:3.7px;line-height:4px;color:#555;transform:scaleX(0.9794);">8000</div>
<div class="t" style="left:470.30px;top:470px;font-size:3.7px;line-height:4px;color:#555;transform:scaleX(0.9790);">10000</div>
<div class="t" style="left:494.40px;top:470px;font-size:3.7px;line-height:4px;color:#555;transform:scaleX(0.9790);">12000</div>
<div class="t" style="left:518.60px;top:470px;font-size:3.7px;line-height:4px;color:#555;transform:scaleX(0.9790);">14000</div>
<div class="t" style="left:413.00px;top:477px;font-size:3.4px;line-height:4px;color:#777777;transform:scaleX(1.1732);">Calcium Score</div>
</body></html>
